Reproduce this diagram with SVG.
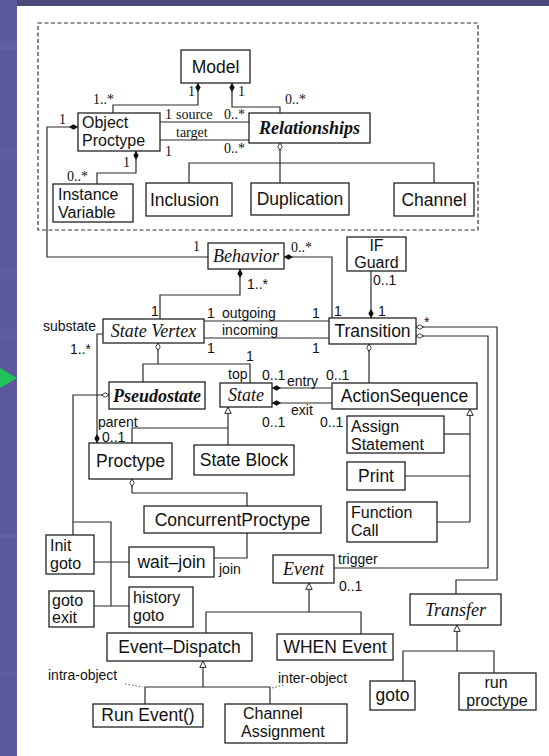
<svg xmlns="http://www.w3.org/2000/svg" width="549" height="756" viewBox="0 0 549 756">
  <style>
    .box { fill: #fff; stroke: #222; stroke-width: 1.3; }
    .ln { fill: none; stroke: #2a2a2a; stroke-width: 1.2; }
    .dot { fill: none; stroke: #555; stroke-width: 1; stroke-dasharray: 1.5 2; }
    .frame { fill: none; stroke: #333; stroke-width: 1.2; stroke-dasharray: 4 2.5; }
    .lbl { font-family: "Liberation Sans", Arial, sans-serif; font-size: 17.5px; fill: #111; }
    .lbl2 { font-family: "Liberation Sans", Arial, sans-serif; font-size: 16px; fill: #111; }
    .it { font-family: "Liberation Serif", "Times New Roman", serif; font-style: italic; font-size: 18px; fill: #111; }
    .mul { font-family: "Liberation Sans", Arial, sans-serif; font-size: 14px; fill: #111; }
    .mser { font-family: "Liberation Serif", "Times New Roman", serif; font-size: 14px; fill: #111; }
    .c { text-anchor: middle; }
  </style>
  <defs>
    <marker id="dFill" viewBox="0 0 10 6" refX="10" refY="3" markerWidth="9" markerHeight="5.4" markerUnits="userSpaceOnUse" orient="auto-start-reverse">
      <path d="M0,3 L5,0 L10,3 L5,6 z" fill="#111"/>
    </marker>
    <marker id="dOpen" viewBox="-1 -1 12 8" refX="10" refY="3" markerWidth="9" markerHeight="6" markerUnits="userSpaceOnUse" orient="auto-start-reverse">
      <path d="M0,3 L5,0 L10,3 L5,6 z" fill="#fff" stroke="#222" stroke-width="1.2"/>
    </marker>
    <marker id="tri" viewBox="-1 -1 10 10" refX="8" refY="4" markerWidth="8" markerHeight="8" markerUnits="userSpaceOnUse" orient="auto-start-reverse">
      <path d="M0,0 L8,4 L0,8 z" fill="#fff" stroke="#222" stroke-width="1.2"/>
    </marker>
  </defs>

  <!-- slide background -->
  <rect x="0" y="0" width="549" height="756" fill="#fff"/>
  <rect x="0" y="0" width="549" height="6" fill="#4a4978"/>
  <rect x="0" y="0" width="17" height="756" fill="#5b5a9c"/>
  <g fill="#6463a6" opacity="0.6">
    <rect x="0" y="42" width="17" height="8"/>
    <rect x="0" y="148" width="17" height="5"/>
    <rect x="0" y="268" width="17" height="5"/>
    <rect x="0" y="335" width="17" height="4"/>
    <rect x="0" y="534" width="17" height="4"/>
    <rect x="0" y="672" width="17" height="4"/>
  </g>
  <polygon points="0,368 17,378 0,388" fill="#21c45a"/>

  <!-- package frame -->
  <rect class="frame" x="38" y="23" width="440" height="207"/>

  <!-- connectors -->
  <g id="connectors">
    <!-- Model compositions -->
    <path class="ln" d="M198,83 L198,105 L113,105 L113,113" marker-start="url(#dFill)"/>
    <path class="ln" d="M232,83 L232,107 L280,107 L280,113" marker-start="url(#dFill)"/>
    <!-- Object Proctype to Relationships -->
    <path class="ln" d="M160,122 L249,122"/>
    <path class="ln" d="M160,140 L249,140"/>
    <!-- Object Proctype to Instance Variable -->
    <path class="ln" d="M136,151 L136,173 L97,173 L97,184" marker-start="url(#dFill)"/>
    <!-- Relationships specialisations -->
    <path class="ln" d="M280,143 L280,183" marker-start="url(#dOpen)"/>
    <path class="ln" d="M189,183 L189,163 L434,163 L434,183"/>
    <!-- Object Proctype to Behavior -->
    <path class="ln" d="M78,127 L47,127 L47,257 L208,257" marker-start="url(#dFill)"/>
    <!-- Behavior to Transition -->
    <path class="ln" d="M284,257 L332,257 L332,318" marker-start="url(#dFill)"/>
    <!-- Behavior to State Vertex -->
    <path class="ln" d="M240,269 L240,295 L160,295 L160,319" marker-start="url(#dFill)"/>
    <!-- IF Guard to Transition -->
    <path class="ln" d="M371,318 L371,271" marker-start="url(#dFill)"/>
    <!-- State Vertex / Transition -->
    <path class="ln" d="M204,321 L329,321"/>
    <path class="ln" d="M204,338 L329,338"/>
    <!-- substate / parent -->
    <path class="ln" d="M103,334 L97,334 L97,443" marker-end="url(#dFill)"/>
    <!-- State Vertex specialisations -->
    <path class="ln" d="M158,343 L158,364" marker-start="url(#dOpen)"/>
    <path class="ln" d="M143,382 L143,364 L250,364 L250,383"/>
    <!-- State entry / exit -->
    <path class="ln" d="M272,388 L332,388" marker-start="url(#dFill)"/>
    <path class="ln" d="M272,403 L332,403" marker-start="url(#dFill)"/>
    <!-- Transition to ActionSequence -->
    <path class="ln" d="M369,344 L369,383" marker-start="url(#dOpen)"/>
    <!-- Transition to Transfer and Event -->
    <path class="ln" d="M416,327 L497,327 L497,580 L456,580 L456,594" marker-start="url(#dOpen)"/>
    <path class="ln" d="M416,336 L488,336 L488,568 L334,568" marker-start="url(#dOpen)"/>
    <!-- ActionSequence specialisations -->
    <path class="ln" d="M470,409 L470,522" marker-start="url(#tri)"/>
    <path class="ln" d="M444,434 L470,434"/>
    <path class="ln" d="M405,476 L470,476"/>
    <path class="ln" d="M437,522 L470,522"/>
    <!-- State specialisations -->
    <path class="ln" d="M228,407 L228,445" marker-start="url(#tri)"/>
    <path class="ln" d="M132,443 L132,428 L228,428"/>
    <!-- Proctype to ConcurrentProctype -->
    <path class="ln" d="M132,479 L132,493 L247,493 L247,506" marker-start="url(#dOpen)"/>
    <path class="ln" d="M247,533 L247,558 L214,558"/>
    <!-- Pseudostate specialisations -->
    <path class="ln" d="M109,395 L73,395 L73,535" marker-start="url(#dOpen)"/>
    <path class="ln" d="M73,522 L111,522 L111,606"/>
    <path class="ln" d="M94,562 L129,562"/>
    <path class="ln" d="M94,606 L129,606"/>
    <!-- Event specialisations -->
    <path class="ln" d="M309,583 L309,612" marker-start="url(#tri)"/>
    <path class="ln" d="M206,633 L206,612 L361,612 L361,634"/>
    <!-- Event-Dispatch specialisations -->
    <path class="ln" d="M203,661 L203,687" marker-start="url(#tri)"/>
    <path class="ln" d="M145,704 L145,687 L270,687 L270,704"/>
    <path class="dot" d="M125,684 L143,687"/>
    <path class="dot" d="M272,688 L284,685"/>
    <!-- Transfer specialisations -->
    <path class="ln" d="M457,625 L457,651" marker-start="url(#tri)"/>
    <path class="ln" d="M403,681 L403,651 L494,651 L494,673"/>
  </g>

  <!-- multiplicities and role names -->
  <g id="labels">
    <text class="mser" x="93" y="104">1..*</text>
    <text class="mser" x="188" y="96">1</text>
    <text class="mser" x="238" y="96">1</text>
    <text class="mser" x="285" y="104">0..*</text>
    <text class="mser" x="165" y="119">1</text>
    <text class="mser" x="176" y="119">source</text>
    <text class="mser" x="224" y="119">0..*</text>
    <text class="mser" x="176" y="137">target</text>
    <text class="mser" x="165" y="156">1</text>
    <text class="mser" x="224" y="153">0..*</text>
    <text class="mser" x="123" y="167">1</text>
    <text class="mser" x="67" y="181">0..*</text>
    <text class="mser" x="59" y="124">1</text>
    <text class="mser" x="193" y="251">1</text>
    <text class="mser" x="291" y="252">0..*</text>
    <text class="mul" x="247" y="289">1..*</text>
    <text class="mul" x="151" y="316">1</text>
    <text class="mul" x="334" y="316">1</text>
    <text class="mul" x="373" y="285">0..1</text>
    <text class="mul" x="378" y="316">1</text>
    <text class="mul" x="207" y="318">1</text>
    <text class="mul" x="222" y="318">outgoing</text>
    <text class="mul" x="312" y="318">1</text>
    <text class="mul" x="222" y="335">incoming</text>
    <text class="mul" x="207" y="353">1</text>
    <text class="mul" x="312" y="353">1</text>
    <text class="mul" x="43" y="331">substate</text>
    <text class="mul" x="70" y="354">1..*</text>
    <text class="mul" x="246" y="361">1</text>
    <text class="mul" x="228" y="379">top</text>
    <text class="mul" x="262" y="380">0..1</text>
    <text class="mul" x="287" y="386">entry</text>
    <text class="mul" x="326" y="380">0..1</text>
    <text class="mul" x="291" y="415">exit</text>
    <text class="mul" x="262" y="427">0..1</text>
    <text class="mul" x="320" y="427">0..1</text>
    <text class="mul" x="424" y="327">*</text>
    <text class="mul" x="98" y="427">parent</text>
    <text class="mul" x="102" y="442">0..1</text>
    <text class="mul" x="219" y="574">join</text>
    <text class="mul" x="338" y="564">trigger</text>
    <text class="mul" x="339" y="591">0..1</text>
    <text class="mul" x="48" y="680">intra-object</text>
    <text class="mul" x="278" y="683">inter-object</text>
  </g>

  <!-- classes -->
  <g id="model"><rect class="box" x="181" y="50" width="69" height="33"/><text class="lbl c" x="215.5" y="73">Model</text></g>
  <g id="object-proctype"><rect class="box" x="78" y="113" width="82" height="38"/><text class="lbl2" x="82" y="128">Object</text><text class="lbl2" x="82" y="146">Proctype</text></g>
  <g id="relationships"><rect class="box" x="249" y="113" width="121" height="30"/><text class="it c" x="309.5" y="134" font-weight="bold">Relationships</text></g>
  <g id="instance-variable"><rect class="box" x="53" y="184" width="80" height="38"/><text class="lbl2" x="58" y="200">Instance</text><text class="lbl2" x="58" y="218">Variable</text></g>
  <g id="inclusion"><rect class="box" x="146" y="183" width="86" height="33"/><text class="lbl" x="150" y="206">Inclusion</text></g>
  <g id="duplication"><rect class="box" x="251" y="183" width="98" height="32"/><text class="lbl c" x="300" y="205">Duplication</text></g>
  <g id="channel"><rect class="box" x="394" y="183" width="80" height="33"/><text class="lbl c" x="434" y="206">Channel</text></g>
  <g id="behavior"><rect class="box" x="208" y="243" width="76" height="26"/><text class="it c" x="246" y="262">Behavior</text></g>
  <g id="if-guard"><rect class="box" x="347" y="237" width="59" height="34"/><text class="lbl2 c" x="376.5" y="251" font-size="14.5">IF</text><text class="lbl2 c" x="376.5" y="268" font-size="14.5">Guard</text></g>
  <g id="state-vertex"><rect class="box" x="103" y="319" width="101" height="24"/><text class="it c" x="153.5" y="337">State Vertex</text></g>
  <g id="transition"><rect class="box" x="329" y="318" width="87" height="26"/><text class="lbl c" x="372.5" y="337">Transition</text></g>
  <g id="pseudostate"><rect class="box" x="109" y="382" width="96" height="27"/><text class="it c" x="157" y="402" font-weight="bold">Pseudostate</text></g>
  <g id="state"><rect class="box" x="220" y="383" width="52" height="24"/><text class="it c" x="246" y="401">State</text></g>
  <g id="action-sequence"><rect class="box" x="332" y="383" width="145" height="26"/><text class="lbl c" x="404.5" y="402">ActionSequence</text></g>
  <g id="proctype"><rect class="box" x="89" y="443" width="83" height="36"/><text class="lbl c" x="130.5" y="467">Proctype</text></g>
  <g id="state-block"><rect class="box" x="194" y="445" width="100" height="30"/><text class="lbl c" x="244" y="466">State Block</text></g>
  <g id="assign-statement"><rect class="box" x="347" y="416" width="97" height="37"/><text class="lbl2" x="351" y="432">Assign</text><text class="lbl2" x="351" y="450">Statement</text></g>
  <g id="print"><rect class="box" x="347" y="462" width="58" height="28"/><text class="lbl c" x="376" y="482">Print</text></g>
  <g id="function-call"><rect class="box" x="347" y="502" width="90" height="40"/><text class="lbl2" x="351" y="518">Function</text><text class="lbl2" x="351" y="536">Call</text></g>
  <g id="concurrent-proctype"><rect class="box" x="144" y="506" width="177" height="27"/><text class="lbl c" x="232.5" y="526">ConcurrentProctype</text></g>
  <g id="init-goto"><rect class="box" x="46" y="535" width="48" height="39"/><text class="lbl2" x="50" y="551">Init</text><text class="lbl2" x="50" y="569">goto</text></g>
  <g id="wait-join"><rect class="box" x="129" y="547" width="85" height="30"/><text class="lbl c" x="171.5" y="568">wait–join</text></g>
  <g id="goto-exit"><rect class="box" x="49" y="591" width="45" height="36"/><text class="lbl2" x="52" y="606" font-size="15">goto</text><text class="lbl2" x="52" y="623" font-size="15">exit</text></g>
  <g id="history-goto"><rect class="box" x="129" y="587" width="64" height="40"/><text class="lbl2" x="133" y="603">history</text><text class="lbl2" x="133" y="621">goto</text></g>
  <g id="event"><rect class="box" x="273" y="555" width="61" height="28"/><text class="it c" x="303.5" y="575">Event</text></g>
  <g id="event-dispatch"><rect class="box" x="107" y="633" width="145" height="28"/><text class="lbl c" x="179.5" y="653">Event–Dispatch</text></g>
  <g id="when-event"><rect class="box" x="277" y="634" width="116" height="26"/><text class="lbl c" x="335" y="653">WHEN Event</text></g>
  <g id="run-event"><rect class="box" x="93" y="704" width="110" height="23"/><text class="lbl c" x="148" y="721">Run Event()</text></g>
  <g id="channel-assignment"><rect class="box" x="225" y="704" width="122" height="39"/><text class="lbl2" x="243" y="719">Channel</text><text class="lbl2" x="241" y="737">Assignment</text></g>
  <g id="transfer"><rect class="box" x="410" y="594" width="91" height="31"/><text class="it c" x="455.5" y="616">Transfer</text></g>
  <g id="goto"><rect class="box" x="370" y="681" width="45" height="29"/><text class="lbl c" x="392.5" y="701">goto</text></g>
  <g id="run-proctype"><rect class="box" x="459" y="673" width="77" height="37"/><text class="lbl2 c" x="496" y="688">run</text><text class="lbl2 c" x="497" y="706">proctype</text></g>
</svg>
